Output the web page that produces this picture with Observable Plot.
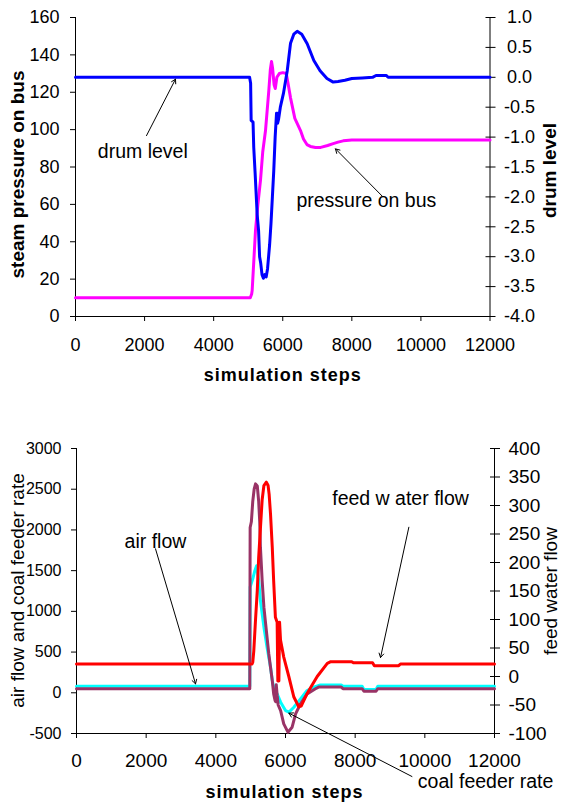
<!DOCTYPE html>
<html><head><meta charset="utf-8">
<script src="https://cdn.jsdelivr.net/npm/d3@7"></script>
<script src="https://cdn.jsdelivr.net/npm/@observablehq/plot@0.6"></script>
<style>
body{margin:0;background:#fff;}
#wrap{position:relative;width:561px;height:802px;overflow:hidden;background:#fff;}
#top{position:absolute;left:0;top:0;}
#bot{position:absolute;left:0;top:400px;}
</style></head><body><div id="wrap"><div id="top"></div><div id="bot"></div></div>
<script>
// ---------- shared ----------
const stepTicks = [0, 2000, 4000, 6000, 8000, 10000, 12000];

// ---------- top chart data ----------
const pressureTicks = [0, 20, 40, 60, 80, 100, 120, 140, 160];
const drumTicks = [-4.0, -3.5, -3.0, -2.5, -2.0, -1.5, -1.0, -0.5, 0.0, 0.5, 1.0];

const drumSteps = [0,5040,5070,5085,5140,5160,5200,5260,5300,5330,5360,5400,5440,5480,5520,5560,5620,5660,5700,5740,5780,5820,5840,5850,5880,5930,6020,6130,6225,6320,6418,6550,6708,6900,7080,7280,7460,7600,7800,8000,8300,8600,8700,9000,9050,12000];
const drumLevel = [0,0,-0.1,-0.72,-0.75,-1.17,-1.6,-2.3,-2.56,-3.0,-3.1,-3.3,-3.36,-3.3,-3.34,-3.2,-2.8,-2.44,-2.0,-1.56,-1.0,-0.6,-0.6,-0.77,-0.7,-0.5,-0.27,0.11,0.57,0.72,0.77,0.72,0.56,0.28,0.11,-0.02,-0.08,-0.07,-0.05,-0.02,-0.01,0.0,0.03,0.03,0,0];

const pressSteps = [0,5060,5100,5115,5211,5280,5356,5420,5501,5597,5640,5675,5705,5750,5784,5830,5900,6000,6102,6160,6225,6350,6514,6600,6700,6800,6948,7100,7300,7461,7600,7750,8000,12000];
const pressValues = [10,10,12,14,46,60,73,88,99.5,121,132,136.5,133,124,122,128,130,130.5,130,124,117,106,99.5,95,92,91,90.4,90.5,91.5,92.5,93.3,94,94.5,94.5];

const topNotes = [
  {s: 1948, v: 88.3, t: "drum level"},
  {s: 8420, v: 62.1, t: "pressure on bus"}
];
const topArrows = [
  {s1: 2056, v1: 96.8, s2: 2895, v2: 127.0},
  {s1: 8880, v1: 64.4, s2: 7527, v2: 89.7}
];

// ---------- bottom chart data ----------
const flowTicks = [-500, 0, 500, 1000, 1500, 2000, 2500, 3000];
const feedTicks = [-100, -50, 0, 50, 100, 150, 200, 250, 300, 350, 400];

const airSteps = [0,4975,4985,5060,5120,5170,5230,5280,5330,5380,5470,5570,5620,5660,5760,5860,6000,6100,6240,6430,6620,6810,7000,7600,7650,8200,8250,8600,8650,12000];
const airValues = [80,80,1300,1400,1500,1560,1379,1133,970,806,560,314,151,69,-13,-115,-218,-238,-177,-74,28,69,95,95,80,80,40,40,80,80];

const coalSteps = [0,4975,4985,5020,5060,5100,5140,5190,5230,5260,5280,5330,5380,5430,5470,5520,5570,5620,5660,5700,5720,5735,5760,5790,5860,5950,6070,6190,6290,6430,6620,6860,6950,7600,7650,8200,8250,8600,8650,12000];
const coalValues = [50,50,2030,2100,2350,2500,2566,2540,2350,2100,1788,1379,1051,847,683,479,314,151,-13,-95,-110,100,-30,-150,-218,-381,-484,-423,-258,-135,-13,49,70,70,50,50,20,20,50,50];

const feedSteps = [0,5040,5060,5090,5140,5190,5230,5280,5330,5380,5450,5500,5530,5570,5620,5660,5710,5760,5780,5810,5830,5857,5950,6095,6240,6380,6450,6620,6910,7200,7300,7900,7950,8500,8550,9250,9300,12000];
const feedValues = [22,22,25,45,100,151,209,260,310,335,341,335,320,285,227,168,104,95,-8,-8,95,64,34,0,-36,-53,-52,-30,0,23,26,26,24,24,19,19,22,22];

const botNotes = [
  {s: 2268, v: 1858, t: "air flow"},
  {s: 9302, v: 2386, t: "feed w ater flow"},
  {s: 11743, v: -1089, t: "coal feeder rate"}
];
const botArrows = [
  {s1: 2268, v1: 1768, s2: 3417, v2: 110},
  {s1: 9541, v1: 2033, s2: 8728, v2: 433},
  {s1: 9630, v1: -1028, s2: 6096, v2: -250}
];

// ---------- helpers ----------
const font = "Liberation Sans, Arial, Helvetica, sans-serif";
const hy = s => String(s).replace("\u2212", "-");
const drumToLeft = d => (d + 4) * 32;          // -4..1  ->  0..160
const leftToDrum = v => v / 32 - 4;
const feedToLeft = f => (f + 100) * 7 - 500;   // -100..400 -> -500..3000
const leftToFeed = v => (v + 500) / 7 - 100;

const pressData = pressSteps.map((s, i) => ({s, v: pressValues[i]}));
const drumData = drumSteps.map((s, i) => ({s, v: drumLevel[i]}));
const airData = airSteps.map((s, i) => ({s, v: airValues[i]}));
const coalData = coalSteps.map((s, i) => ({s, v: coalValues[i]}));
const feedData = feedSteps.map((s, i) => ({s, v: feedValues[i]}));

const title = (txt, o) => Plot.text([txt], {text: d => d, textAnchor: "middle", lineAnchor: "middle", fill: "black", ...o});

// ---------- top chart ----------
const topChart = Plot.plot({
  width: 561, height: 400,
  marginTop: 17, marginBottom: 84, marginLeft: 75, marginRight: 71.5,
  style: {fontFamily: font, fontSize: "18px", background: "white", color: "black", overflow: "visible"},
  x: {domain: [0, 12000], label: null},
  y: {domain: [0, 160], label: null},
  marks: [
    Plot.axisX({ticks: stepTicks, tickSize: 5, tickPadding: 17, tickFormat: d => String(d), fontSize: 18, label: null}),
    Plot.axisY({anchor: "left", ticks: pressureTicks, tickSize: 5, tickPadding: 11, tickFormat: d => String(d), fontSize: 18, label: null}),
    Plot.axisY({anchor: "right", ticks: drumTicks.map(drumToLeft), tickSize: 10, dx: -5, tickPadding: 24.5, textAnchor: "middle",
      tickFormat: v => hy(leftToDrum(v).toFixed(1)), fontSize: 18, label: null}),
    Plot.ruleX([0]), Plot.ruleX([12000]), Plot.ruleY([0]),
    Plot.line(pressData, {x: "s", y: "v", stroke: "#ff00ff", strokeWidth: 3}),
    Plot.line(drumData, {x: "s", y: d => drumToLeft(d.v), stroke: "#0000ff", strokeWidth: 3}),
    Plot.arrow(topArrows, {x1: "s1", y1: "v1", x2: "s2", y2: "v2", stroke: "black", strokeWidth: 1, headLength: 7}),
    Plot.text(topNotes, {x: "s", y: "v", text: "t", fontSize: 19.5, fill: "black"}),
    title("steam pressure on bus", {frameAnchor: "left", dx: -57.5, dy: 7.5, rotate: -90, fontSize: 19, fontWeight: "bold"}),
    title("drum level", {frameAnchor: "right", dx: 60, dy: 3.5, rotate: -90, fontSize: 19, fontWeight: "bold"}),
    title("simulation steps", {frameAnchor: "bottom", dx: 0, dy: 59, fontSize: 18, fontWeight: "bold"})
  ]
});
document.getElementById("top").appendChild(topChart);

// ---------- bottom chart ----------
const botChart = Plot.plot({
  width: 561, height: 402,
  marginTop: 48, marginBottom: 69, marginLeft: 76, marginRight: 67,
  style: {fontFamily: font, fontSize: "16px", background: "white", color: "black", overflow: "visible"},
  x: {domain: [0, 12000], label: null},
  y: {domain: [-500, 3000], label: null},
  marks: [
    Plot.axisX({ticks: stepTicks, tickSize: 5, tickPadding: 15, tickFormat: d => String(d), fontSize: 19, label: null}),
    Plot.axisY({anchor: "left", ticks: flowTicks, tickSize: 5, tickPadding: 10, tickFormat: d => String(d), fontSize: 16, label: null}),
    Plot.axisY({anchor: "right", ticks: feedTicks.map(feedToLeft), tickSize: 10, dx: -5, tickPadding: 9, textAnchor: "start",
      tickFormat: v => hy(String(Math.round(leftToFeed(v)))), fontSize: 19, label: null}),
    Plot.ruleX([0]), Plot.ruleX([12000]), Plot.ruleY([-500]),
    Plot.line(airData, {x: "s", y: "v", stroke: "#00ffff", strokeWidth: 3}),
    Plot.line(coalData, {x: "s", y: "v", stroke: "#993366", strokeWidth: 3}),
    Plot.line(feedData, {x: "s", y: d => feedToLeft(d.v), stroke: "#ff0000", strokeWidth: 3}),
    Plot.arrow(botArrows, {x1: "s1", y1: "v1", x2: "s2", y2: "v2", stroke: "black", strokeWidth: 1, headLength: 7}),
    Plot.text(botNotes, {x: "s", y: "v", text: "t", fontSize: 19.5, fill: "black"}),
    title("air flow and coal feeder rate", {frameAnchor: "left", dx: -59, dy: -0.5, rotate: -90, fontSize: 19}),
    title("feed water flow", {frameAnchor: "right", dx: 56.5, dy: 0, rotate: -90, fontSize: 19}),
    title("simulation steps", {frameAnchor: "bottom", dx: -1, dy: 59, fontSize: 18, fontWeight: "bold"})
  ]
});
document.getElementById("bot").appendChild(botChart);

// letter spacing for the bold x titles
d3.selectAll("svg text").filter(function () { return this.textContent === "simulation steps"; })
  .style("letter-spacing", "1px");
</script>
</body></html>
